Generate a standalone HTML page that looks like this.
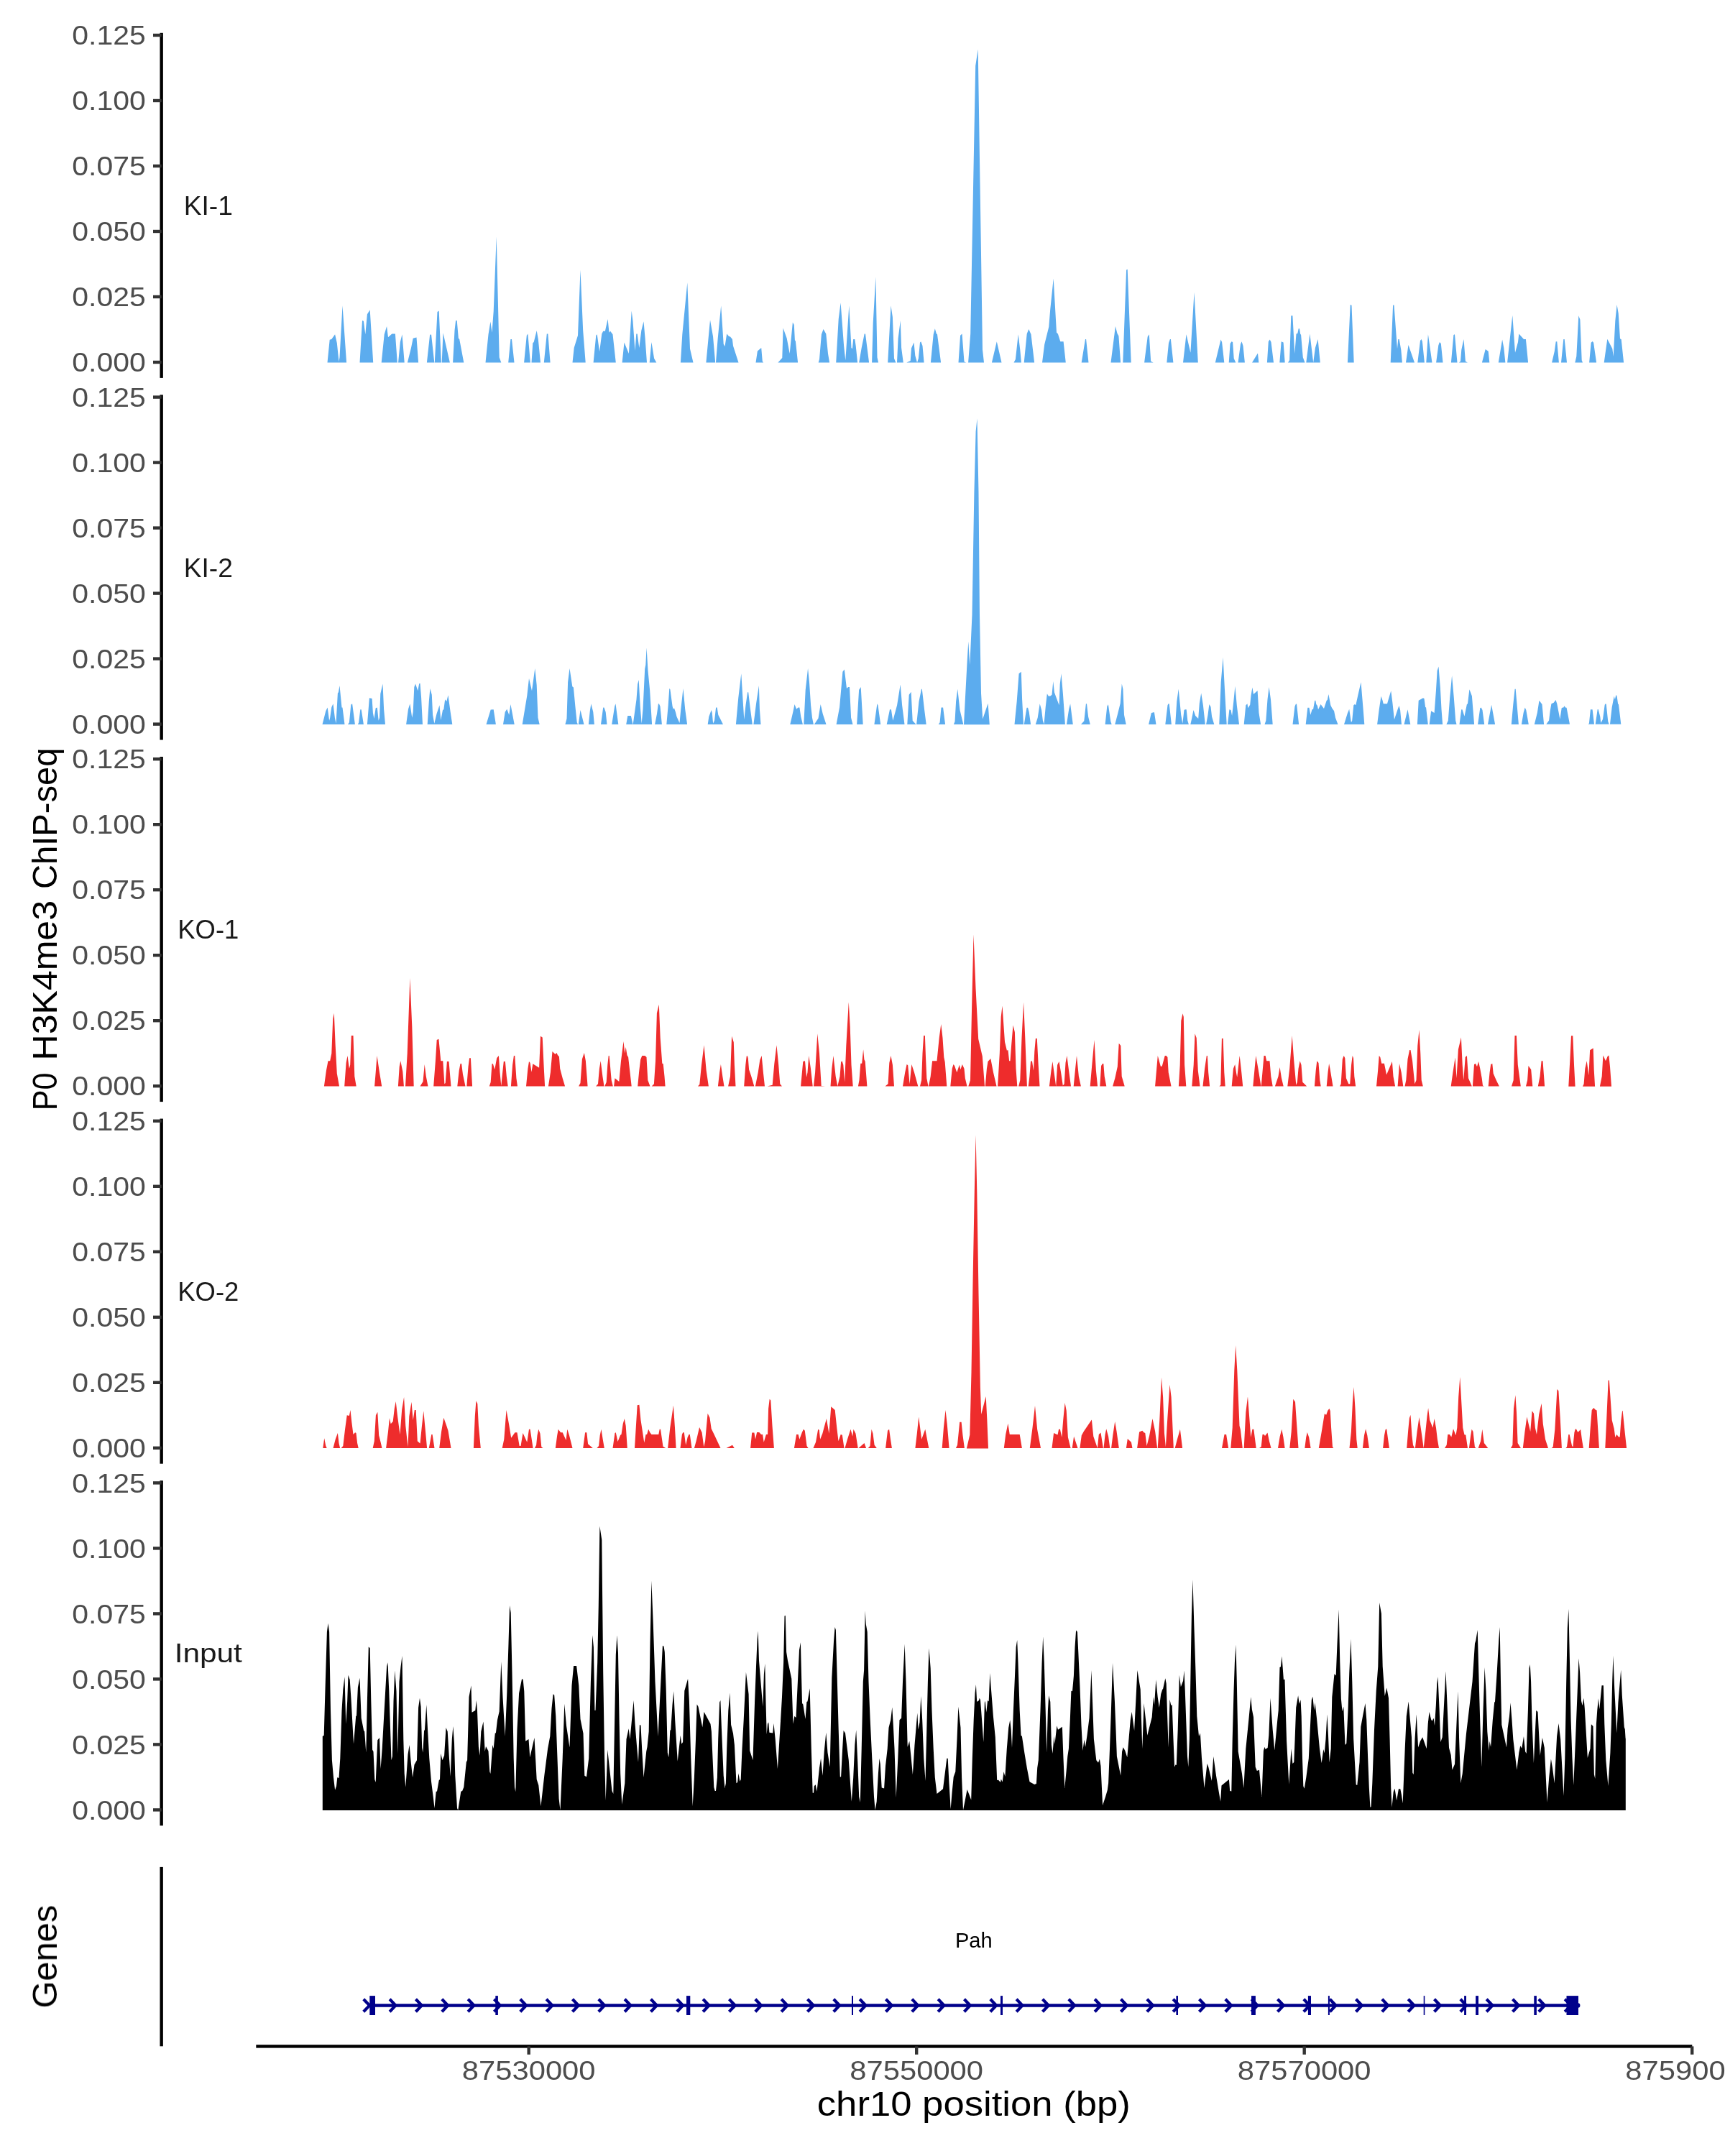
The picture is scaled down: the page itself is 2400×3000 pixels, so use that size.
<!DOCTYPE html>
<html lang="en"><head><meta charset="utf-8"><title>P0 H3K4me3 ChIP-seq coverage</title>
<style>html,body{margin:0;padding:0;background:#fff}svg{display:block}text{font-family:"Liberation Sans",sans-serif}</style></head><body>
<svg width="2400" height="3000" viewBox="0 0 2400 3000">
<rect width="2400" height="3000" fill="#fff"/>
<rect x="222.45" y="45.80" width="4.40" height="480.10" fill="#000"/>
<rect x="213" y="46.80" width="11.65" height="4.4" fill="#333"/>
<rect x="213" y="137.80" width="11.65" height="4.4" fill="#333"/>
<rect x="213" y="228.80" width="11.65" height="4.4" fill="#333"/>
<rect x="213" y="319.80" width="11.65" height="4.4" fill="#333"/>
<rect x="213" y="410.80" width="11.65" height="4.4" fill="#333"/>
<rect x="213" y="501.80" width="11.65" height="4.4" fill="#333"/>
<path d="M455.5,504.5 L458.7,472.8 L461.3,472.0 L466.1,465.3 L468.8,477.3 L471.5,503.2 L472.5,497.3 L476.5,425.3 L482.1,504.5ZM500.5,504.5 L504.0,446.1 L505.9,446.7 L508.3,465.3 L510.9,437.3 L514.7,431.2 L519.2,504.5ZM530.7,504.5 L534.7,465.3 L538.1,454.1 L540.0,469.3 L545.3,464.5 L549.9,464.5 L552.8,504.5ZM554.1,504.5 L556.8,476.0 L559.5,465.3 L562.7,504.5ZM566.9,504.5 L572.0,484.0 L574.7,470.7 L579.5,469.6 L582.1,504.5ZM593.9,504.5 L598.1,465.9 L600.0,465.3 L604.3,504.5ZM604.8,504.5 L608.5,434.1 L610.7,432.5 L613.9,504.5ZM614.7,504.5 L616.5,463.2 L625.9,504.5ZM630.1,504.5 L632.5,460.0 L634.1,446.1 L635.7,446.1 L637.9,470.7 L639.2,472.0 L645.3,504.5ZM675.5,504.5 L679.5,465.3 L682.4,447.5 L684.5,462.7 L686.7,433.3 L690.7,329.3 L694.7,497.3 L697.3,504.5ZM707.2,504.5 L710.4,472.0 L712.0,472.0 L715.5,504.5ZM729.1,504.5 L732.8,466.7 L734.4,464.5 L737.9,504.5ZM739.5,504.5 L741.3,477.3 L742.7,476.0 L746.7,460.0 L748.8,472.0 L752.0,504.5ZM756.8,504.5 L760.8,464.5 L762.4,464.5 L765.6,504.5ZM796.5,504.5 L798.7,484.0 L804.0,466.7 L807.5,375.5 L811.2,460.0 L814.7,504.5ZM825.6,504.5 L829.3,466.7 L830.7,465.3 L834.1,489.3 L837.3,464.5 L839.2,460.8 L841.9,460.8 L845.6,444.0 L847.5,462.7 L849.1,460.8 L852.5,465.3 L856.8,504.5ZM865.6,504.5 L868.5,476.5 L874.9,492.0 L878.7,432.5 L880.5,446.7 L883.5,488.0 L885.3,464.5 L886.7,464.5 L889.3,484.0 L892.3,460.0 L895.5,447.2 L897.6,470.7 L900.0,504.5ZM903.7,504.5 L906.4,476.0 L910.1,498.7 L913.3,504.5ZM946.9,504.5 L949.3,465.3 L956.3,393.3 L960.0,485.3 L964.5,504.5ZM982.4,504.5 L988.0,445.3 L992.0,468.0 L995.2,504.5ZM996.0,504.5 L998.7,470.7 L1003.2,425.3 L1006.7,478.7 L1008.5,482.1 L1011.2,464.5 L1014.1,468.0 L1016.0,468.5 L1018.9,472.0 L1020.0,481.3 L1027.5,504.5ZM1051.5,504.5 L1053.9,488.5 L1059.2,484.0 L1060.8,502.7 L1062.1,504.5ZM1082.4,504.5 L1088.3,497.9 L1089.6,456.5 L1094.7,470.7 L1098.7,492.0 L1102.9,448.5 L1104.8,452.0 L1105.9,473.3 L1106.9,474.7 L1110.1,504.5ZM1138.7,504.5 L1140.0,500.0 L1142.9,465.3 L1145.6,457.9 L1149.3,464.5 L1152.0,492.0 L1154.1,504.5ZM1163.2,504.5 L1166.7,444.0 L1169.6,421.3 L1174.1,481.3 L1176.3,501.3 L1177.3,486.7 L1181.3,425.3 L1184.5,484.0 L1185.9,485.3 L1187.2,472.0 L1189.3,472.0 L1190.7,481.3 L1193.1,504.5ZM1195.2,504.5 L1198.7,484.0 L1202.7,464.5 L1204.0,464.5 L1209.1,504.5ZM1213.1,504.5 L1214.7,449.3 L1218.4,385.3 L1220.5,497.3 L1222.1,504.5ZM1235.2,504.5 L1239.5,425.3 L1241.9,441.3 L1244.0,498.7 L1246.4,504.5ZM1248.0,504.5 L1249.6,470.7 L1252.8,446.1 L1254.1,484.0 L1256.8,504.5ZM1261.3,504.5 L1266.7,501.9 L1268.0,484.5 L1271.5,476.5 L1273.3,494.7 L1276.0,504.5 L1277.9,498.7 L1280.0,476.5 L1281.3,475.2 L1283.5,481.3 L1285.6,504.5ZM1294.9,504.5 L1298.7,465.3 L1300.8,457.3 L1302.9,464.5 L1304.0,465.3 L1309.1,504.5ZM1333.5,504.5 L1336.1,466.7 L1338.5,464.5 L1341.5,503.2 L1344.1,504.5ZM1379.9,504.5 L1386.8,475.2 L1393.5,504.5ZM1410.5,504.5 L1412.9,500.0 L1416.7,465.3 L1419.3,486.7 L1420.9,504.5ZM1424.7,504.5 L1428.7,464.5 L1431.3,457.9 L1434.5,465.3 L1439.1,504.5ZM1450.0,504.5 L1453.2,479.2 L1459.3,454.7 L1461.2,430.7 L1465.7,387.5 L1470.0,462.7 L1471.9,464.5 L1475.3,475.2 L1479.6,475.2 L1482.8,504.5ZM1504.7,504.5 L1510.0,472.0 L1511.1,472.0 L1514.5,504.5ZM1545.5,504.5 L1551.9,454.1 L1554.5,464.0 L1556.4,467.5 L1559.1,504.5ZM1562.3,504.5 L1567.1,375.5 L1568.7,374.7 L1573.7,504.5ZM1592.1,504.5 L1596.7,468.5 L1598.8,465.3 L1601.2,502.7 L1604.7,504.5ZM1623.3,504.5 L1626.0,477.3 L1627.9,472.0 L1628.9,472.0 L1632.4,504.5ZM1646.0,504.5 L1650.5,465.3 L1656.4,490.7 L1661.5,406.7 L1666.8,504.5ZM1690.8,504.5 L1698.5,472.5 L1700.1,476.0 L1703.3,504.5ZM1709.7,504.5 L1711.6,478.1 L1713.5,475.2 L1715.1,476.0 L1716.7,498.7 L1719.3,504.5ZM1722.5,504.5 L1726.0,478.7 L1727.6,475.2 L1729.5,481.3 L1731.9,504.5ZM1742.0,504.5 L1750.0,491.5 L1751.3,504.5ZM1347.1,504.5 L1350.2,464.6 L1357.2,91.5 L1360.7,68.5 L1367.0,486.4 L1369.0,504.5ZM1762.9,504.5 L1764.8,475.2 L1766.7,472.5 L1768.5,476.0 L1772.0,504.5ZM1780.3,504.5 L1782.7,475.2 L1785.6,476.5 L1787.7,504.5ZM1792.0,504.5 L1794.1,501.3 L1796.3,439.2 L1798.4,439.2 L1801.3,492.0 L1803.5,464.5 L1805.3,464.0 L1806.7,457.3 L1808.0,457.3 L1809.1,464.5 L1810.1,465.9 L1812.8,497.3 L1815.5,504.5ZM1817.3,504.5 L1822.4,464.5 L1827.2,504.5 L1829.9,484.0 L1833.6,472.0 L1836.8,504.5ZM1874.9,504.5 L1878.7,424.0 L1880.5,424.8 L1883.7,504.5ZM1934.7,504.5 L1938.1,424.5 L1939.5,424.5 L1944.0,485.3 L1945.3,472.0 L1946.7,472.0 L1949.3,486.7 L1950.9,504.5ZM1956.0,504.5 L1959.5,480.0 L1968.0,504.5ZM1972.3,504.5 L1976.0,473.9 L1977.6,472.0 L1978.9,475.2 L1981.9,504.5ZM1984.3,504.5 L1986.9,465.3 L1992.5,504.5ZM1998.1,504.5 L2001.3,480.5 L2002.9,476.0 L2004.8,478.1 L2007.5,504.5ZM2018.9,504.5 L2022.4,465.9 L2024.0,465.3 L2027.5,504.5ZM2029.9,504.5 L2032.0,502.7 L2033.3,486.7 L2036.5,472.0 L2038.9,502.7 L2041.9,504.5ZM2061.9,504.5 L2066.7,486.1 L2070.7,488.8 L2072.3,504.5ZM2084.8,504.5 L2090.1,472.5 L2092.3,484.0 L2094.4,504.5ZM2097.1,504.5 L2104.3,438.7 L2108.0,490.7 L2112.0,476.0 L2113.3,464.5 L2120.0,472.0 L2122.9,472.0 L2126.1,504.5ZM2159.1,504.4 L2162.7,489.3 L2164.7,475.3 L2166.3,475.3 L2168.9,504.4ZM2172.0,504.4 L2175.3,472.0 L2176.7,472.0 L2180.0,504.4ZM2191.3,504.4 L2193.3,496.0 L2196.3,439.3 L2198.4,444.7 L2200.7,501.3 L2202.0,504.4ZM2211.1,504.4 L2213.7,476.7 L2215.6,475.1 L2217.1,476.7 L2221.1,504.4ZM2231.7,504.4 L2236.3,471.7 L2243.3,485.3 L2244.7,496.0 L2247.3,446.7 L2249.6,424.0 L2251.7,436.0 L2254.0,471.3 L2255.7,472.3 L2259.1,504.4Z" fill="#5CACEE"/>
<rect x="222.45" y="549.40" width="4.40" height="480.10" fill="#000"/>
<rect x="213" y="550.40" width="11.65" height="4.4" fill="#333"/>
<rect x="213" y="641.40" width="11.65" height="4.4" fill="#333"/>
<rect x="213" y="732.40" width="11.65" height="4.4" fill="#333"/>
<rect x="213" y="823.40" width="11.65" height="4.4" fill="#333"/>
<rect x="213" y="914.40" width="11.65" height="4.4" fill="#333"/>
<rect x="213" y="1005.40" width="11.65" height="4.4" fill="#333"/>
<path d="M448.5,1008.0 L453.3,989.3 L455.7,984.5 L458.1,1002.7 L459.2,998.7 L461.3,984.0 L463.5,979.2 L465.9,998.7 L467.5,1006.7 L469.9,964.5 L470.9,963.2 L472.5,954.1 L475.5,984.5 L476.5,984.5 L479.5,1008.0ZM484.0,1008.0 L485.9,1005.3 L488.3,980.5 L490.1,979.2 L493.9,1008.0ZM497.9,1008.0 L499.2,1005.3 L501.3,987.2 L502.7,987.2 L505.9,1008.0ZM510.9,1008.0 L513.9,971.2 L517.6,972.0 L518.9,992.0 L520.5,1000.0 L522.7,985.3 L524.8,984.5 L526.7,1002.7 L528.0,998.7 L529.3,965.3 L532.5,951.5 L534.1,986.7 L536.0,1008.0ZM565.1,1008.0 L568.0,986.7 L570.4,979.2 L573.3,998.7 L574.7,990.7 L576.3,956.0 L578.1,951.5 L581.3,961.3 L583.2,951.2 L584.5,950.7 L586.1,970.7 L588.0,1008.0ZM594.7,1008.0 L596.8,976.0 L598.4,957.9 L600.8,966.7 L602.1,994.7 L604.3,1006.7 L607.5,993.3 L611.5,981.3 L613.3,1002.1 L616.0,988.0 L617.3,987.2 L619.2,973.3 L621.3,976.0 L623.5,967.2 L626.7,990.7 L629.3,1008.0ZM676.5,1008.0 L682.7,987.5 L686.7,987.2 L689.9,1008.0ZM700.0,1008.0 L702.7,990.7 L705.3,986.7 L708.3,994.7 L710.4,980.0 L715.7,1008.0ZM726.7,1008.0 L733.3,968.0 L736.0,944.0 L740.0,961.3 L744.3,930.1 L746.7,953.3 L748.5,998.7 L750.7,1008.0ZM786.4,1008.0 L788.5,1000.0 L790.1,949.3 L792.5,930.1 L796.3,955.2 L797.9,956.5 L800.5,984.0 L802.7,1005.3 L804.0,1008.0ZM804.8,1008.0 L807.5,988.0 L812.5,1008.0ZM818.9,1008.0 L820.8,989.3 L822.4,979.2 L825.3,990.7 L826.9,1008.0ZM836.0,1008.0 L839.2,984.5 L840.5,984.5 L842.7,990.7 L844.5,1008.0ZM851.2,1008.0 L855.2,982.7 L856.5,979.2 L860.3,1008.0ZM871.2,1008.0 L873.3,996.0 L877.9,996.0 L880.5,1008.0ZM880.7,1008.0 L885.5,973.3 L887.1,952.0 L888.7,946.1 L890.8,984.0 L892.7,1006.7 L894.5,986.7 L897.2,930.7 L898.3,925.3 L899.6,901.3 L901.5,933.3 L904.1,960.0 L907.1,1008.0ZM911.1,1008.0 L914.0,993.3 L915.9,979.2 L916.9,979.2 L918.5,982.7 L920.9,1008.0ZM927.3,1008.0 L929.7,981.3 L931.3,957.9 L932.4,959.2 L935.6,982.7 L936.7,986.7 L938.0,985.3 L939.9,990.7 L941.5,997.3 L945.5,1005.9 L947.3,986.7 L950.5,957.9 L953.2,986.7 L956.1,1008.0ZM984.7,1008.0 L986.3,997.3 L989.7,988.0 L990.8,992.0 L992.1,1006.7 L994.0,1002.7 L996.1,984.5 L997.7,984.5 L999.3,994.7 L1002.0,1000.0 L1006.0,1008.0ZM1023.9,1008.0 L1027.3,970.7 L1031.3,937.3 L1033.5,973.3 L1035.3,1001.3 L1037.5,981.3 L1040.1,963.2 L1041.2,963.2 L1043.6,984.0 L1046.8,1008.0ZM1048.4,1008.0 L1052.1,978.7 L1055.9,954.1 L1056.9,986.7 L1058.5,1008.0ZM1099.3,1008.0 L1103.3,990.7 L1105.5,980.0 L1108.1,986.7 L1110.5,984.5 L1112.4,984.5 L1114.3,997.3 L1116.9,1008.0ZM1118.3,1008.0 L1120.7,960.0 L1124.1,930.1 L1126.0,949.3 L1128.1,981.3 L1130.0,998.7 L1131.9,1008.0ZM1132.9,1008.0 L1138.5,999.5 L1141.7,980.0 L1144.7,993.3 L1149.5,1008.0ZM1163.6,1008.0 L1168.1,984.0 L1172.4,934.7 L1174.8,931.5 L1178.0,957.9 L1180.1,956.0 L1182.0,956.0 L1184.1,998.7 L1186.5,1008.0ZM1192.1,1008.0 L1193.5,986.7 L1195.1,960.0 L1197.7,956.0 L1199.3,984.0 L1200.7,1008.0ZM1216.4,1008.0 L1220.4,979.2 L1221.5,981.3 L1225.2,1008.0ZM1233.7,1008.0 L1238.0,987.2 L1239.9,987.2 L1242.3,1002.7 L1248.1,981.3 L1252.7,952.5 L1255.1,981.3 L1258.5,1008.0ZM1262.3,1008.0 L1264.7,966.7 L1267.6,962.7 L1269.7,1002.7 L1271.9,1005.3 L1274.5,1008.0ZM1275.1,1008.0 L1278.5,976.0 L1282.0,958.7 L1282.8,958.7 L1286.0,986.7 L1288.7,1008.0ZM1305.7,1008.0 L1307.6,1005.3 L1309.5,984.5 L1312.1,984.5 L1315.1,1008.0ZM1326.9,1008.0 L1328.5,1004.0 L1330.1,976.0 L1332.3,958.7 L1335.5,988.0 L1340.3,1008.0ZM1411.5,1008.0 L1414.7,976.0 L1417.6,937.3 L1420.8,934.7 L1422.1,973.3 L1424.0,1008.0ZM1424.8,1008.0 L1426.7,996.0 L1428.5,984.8 L1430.1,984.8 L1431.7,990.7 L1434.1,1008.0ZM1440.8,1008.0 L1443.7,998.7 L1446.7,979.2 L1449.1,988.0 L1450.9,1002.7 L1452.5,1008.0ZM1452.5,1008.0 L1454.7,984.0 L1456.8,965.3 L1458.9,968.8 L1461.3,968.5 L1463.5,966.7 L1465.3,948.0 L1466.9,963.2 L1470.1,972.0 L1473.6,981.3 L1474.7,952.0 L1476.5,937.3 L1478.9,965.3 L1481.9,1008.0ZM1484.0,1008.0 L1487.2,986.7 L1489.1,979.2 L1492.8,1008.0ZM1504.0,1008.0 L1508.3,1003.2 L1510.9,979.2 L1512.0,979.2 L1514.1,997.3 L1516.8,1008.0ZM1537.6,1008.0 L1540.3,982.7 L1541.9,980.3 L1545.3,1004.0 L1546.7,1008.0ZM1551.2,1008.0 L1554.7,994.7 L1558.7,978.7 L1560.8,951.5 L1562.4,958.7 L1564.0,994.7 L1566.7,1008.0ZM1598.1,1008.0 L1601.9,992.0 L1605.9,990.9 L1608.5,1008.0ZM1621.3,1008.0 L1624.5,981.3 L1625.6,979.2 L1626.7,979.2 L1629.9,1008.0ZM1635.2,1008.0 L1637.3,976.0 L1639.7,958.7 L1643.2,994.7 L1645.3,1006.7 L1647.5,988.0 L1648.8,987.2 L1650.7,987.2 L1652.3,1002.7 L1653.9,1008.0ZM1656.3,1008.0 L1658.1,1000.0 L1660.5,988.0 L1663.2,996.0 L1667.2,1000.0 L1668.8,978.7 L1671.2,964.5 L1673.9,981.3 L1676.8,1008.0ZM1678.1,1008.0 L1680.5,994.7 L1682.4,980.0 L1684.5,983.5 L1686.1,997.3 L1689.3,1008.0ZM1696.3,1008.0 L1698.7,949.3 L1701.6,914.7 L1704.0,960.0 L1706.7,1008.0ZM1708.0,1008.0 L1710.4,987.2 L1712.5,988.0 L1714.1,996.0 L1716.3,976.0 L1718.4,954.7 L1720.8,981.3 L1724.0,1008.0ZM1730.7,1008.0 L1733.3,981.3 L1735.5,979.2 L1736.3,985.3 L1739.2,980.8 L1740.5,968.0 L1742.4,956.5 L1744.0,965.9 L1749.6,961.1 L1751.5,992.0 L1754.1,1008.0ZM1759.5,1008.0 L1761.3,1002.7 L1763.5,973.3 L1765.6,956.0 L1768.0,973.3 L1770.7,1008.0ZM1341.0,1008.2 L1342.7,975.5 L1345.6,920.9 L1347.3,892.6 L1349.3,925.3 L1352.5,855.5 L1355.4,685.3 L1357.6,600.2 L1359.5,582.3 L1361.5,685.3 L1363.0,855.5 L1365.0,964.6 L1367.2,1000.6 L1374.6,978.8 L1376.8,1008.2ZM1798.5,1008.0 L1801.5,982.7 L1803.1,979.2 L1804.1,980.0 L1807.1,1008.0ZM1816.7,1008.0 L1819.3,984.8 L1821.5,984.8 L1823.3,994.7 L1825.5,987.2 L1827.1,986.7 L1829.2,974.7 L1830.3,974.7 L1831.3,980.0 L1832.9,981.9 L1834.0,987.2 L1837.5,980.0 L1842.0,985.9 L1845.7,974.7 L1846.8,973.9 L1848.4,965.9 L1851.3,981.3 L1853.2,985.3 L1856.1,989.3 L1858.0,998.7 L1861.5,1008.0ZM1870.0,1008.0 L1874.8,992.5 L1877.2,986.7 L1879.9,1005.3 L1881.2,1002.7 L1883.3,981.3 L1884.9,980.0 L1886.3,981.3 L1889.2,968.0 L1893.5,949.3 L1896.4,984.0 L1898.3,1008.0ZM1916.1,1008.0 L1918.8,986.7 L1921.5,968.8 L1923.6,974.7 L1924.7,979.2 L1930.0,979.2 L1931.3,974.7 L1935.3,961.3 L1937.5,978.7 L1939.9,1001.3 L1944.7,986.7 L1946.5,982.1 L1948.1,988.0 L1950.0,1008.0ZM1953.5,1008.0 L1958.5,987.2 L1962.3,1008.0ZM1971.9,1008.0 L1973.7,974.7 L1979.9,971.2 L1981.5,972.0 L1983.1,984.0 L1984.1,984.5 L1986.8,1008.0ZM1988.7,1008.0 L1991.1,989.3 L1995.6,992.0 L1998.0,960.0 L1999.6,933.3 L2001.5,927.5 L2003.9,957.3 L2005.5,986.7 L2007.1,1008.0ZM2012.4,1008.0 L2014.8,1002.7 L2017.2,970.7 L2020.1,940.0 L2022.8,970.7 L2025.2,1002.7 L2026.5,1008.0ZM2030.5,1008.0 L2033.2,987.2 L2034.5,987.2 L2037.5,996.8 L2040.9,980.0 L2042.0,979.2 L2044.4,959.2 L2047.9,968.5 L2051.1,1008.0ZM2056.1,1008.0 L2059.3,985.3 L2060.7,984.5 L2062.5,988.0 L2065.2,1008.0ZM2070.0,1008.0 L2075.1,980.8 L2080.1,1008.0ZM2102.8,1008.0 L2105.2,981.3 L2107.6,958.7 L2108.7,958.7 L2112.9,1008.0ZM2116.9,1008.0 L2119.6,992.0 L2121.7,984.5 L2123.3,988.0 L2126.8,1008.0ZM2134.8,1008.0 L2138.8,992.0 L2141.5,974.7 L2145.5,980.0 L2148.1,1008.0ZM2151.3,1007.7 L2155.1,1002.4 L2156.7,989.3 L2158.4,979.3 L2161.7,977.7 L2164.5,974.0 L2166.3,979.3 L2170.4,1000.7 L2172.7,985.3 L2173.3,984.7 L2175.3,984.4 L2176.4,982.3 L2178.0,984.4 L2179.6,984.7 L2184.0,1007.7ZM2209.7,1007.7 L2210.9,1006.4 L2212.9,987.3 L2215.6,987.3 L2218.0,1007.7ZM2219.7,1007.7 L2222.7,987.1 L2223.7,987.1 L2226.3,997.3 L2227.3,1006.0 L2230.0,1000.7 L2232.7,980.7 L2233.7,979.3 L2234.7,979.7 L2237.3,1004.0 L2238.7,1007.7ZM2240.0,1007.7 L2242.7,984.0 L2245.7,968.7 L2246.9,973.3 L2248.4,966.7 L2249.7,969.3 L2251.1,979.3 L2252.0,980.3 L2255.3,1007.7Z" fill="#5CACEE"/>
<rect x="222.45" y="1053.00" width="4.40" height="480.10" fill="#000"/>
<rect x="213" y="1054.00" width="11.65" height="4.4" fill="#333"/>
<rect x="213" y="1145.00" width="11.65" height="4.4" fill="#333"/>
<rect x="213" y="1236.00" width="11.65" height="4.4" fill="#333"/>
<rect x="213" y="1327.00" width="11.65" height="4.4" fill="#333"/>
<rect x="213" y="1418.00" width="11.65" height="4.4" fill="#333"/>
<rect x="213" y="1509.00" width="11.65" height="4.4" fill="#333"/>
<path d="M450.9,1511.5 L453.9,1489.7 L456.5,1476.3 L459.2,1476.3 L461.3,1465.7 L463.2,1417.7 L464.8,1409.7 L466.7,1455.0 L468.8,1493.7 L472.0,1511.5ZM479.2,1511.5 L481.6,1479.0 L483.5,1468.9 L485.9,1487.0 L487.2,1481.7 L488.8,1441.1 L491.5,1441.1 L493.3,1497.7 L495.7,1511.5ZM521.1,1511.5 L522.7,1492.3 L524.5,1468.9 L528.0,1492.3 L531.2,1511.5ZM553.9,1511.5 L555.7,1484.3 L557.3,1476.3 L560.3,1491.0 L561.9,1511.5ZM564.0,1511.5 L566.7,1465.7 L570.4,1360.9 L573.3,1428.3 L575.7,1511.5ZM584.5,1511.5 L588.5,1504.9 L590.7,1480.9 L592.8,1497.7 L595.5,1511.5ZM603.2,1511.5 L605.9,1476.3 L607.7,1447.0 L610.4,1445.7 L613.3,1476.3 L616.3,1476.3 L618.4,1508.3 L619.7,1507.0 L621.9,1476.9 L624.5,1476.9 L627.5,1511.5ZM636.3,1511.5 L638.7,1489.7 L640.5,1480.1 L642.1,1480.1 L644.0,1495.0 L647.5,1511.5ZM649.3,1511.5 L651.5,1484.3 L653.1,1472.3 L654.9,1472.3 L657.1,1511.5ZM680.8,1511.5 L682.7,1505.7 L684.5,1480.3 L685.9,1480.3 L688.3,1488.3 L691.2,1472.3 L693.9,1468.9 L695.5,1492.3 L697.3,1511.0 L698.9,1495.0 L700.8,1476.9 L702.9,1476.9 L704.8,1497.7 L706.7,1511.5ZM710.9,1511.5 L713.1,1481.7 L714.9,1468.9 L716.3,1468.9 L718.4,1500.3 L720.0,1511.5ZM732.0,1511.5 L734.4,1487.0 L736.0,1476.9 L737.6,1479.0 L739.5,1491.8 L741.3,1480.3 L750.1,1485.7 L752.0,1441.7 L754.7,1443.5 L756.8,1487.0 L758.1,1511.5ZM762.9,1511.5 L765.9,1492.3 L768.5,1463.0 L772.5,1467.0 L774.4,1464.9 L776.0,1468.3 L777.9,1470.2 L779.2,1487.0 L782.7,1500.3 L786.1,1511.5ZM805.1,1511.5 L807.5,1507.0 L809.9,1473.7 L812.8,1465.1 L814.9,1476.3 L817.6,1511.5ZM829.1,1511.5 L832.0,1508.3 L833.9,1487.0 L835.7,1476.3 L838.4,1497.7 L840.5,1511.5ZM841.3,1511.5 L843.7,1505.7 L845.3,1481.7 L846.7,1468.9 L847.7,1468.9 L850.7,1503.0 L852.8,1511.5ZM854.1,1511.5 L855.5,1500.3 L861.3,1504.9 L864.0,1476.3 L867.5,1449.1 L869.3,1465.7 L870.7,1457.1 L872.5,1468.3 L874.1,1471.0 L878.7,1511.5ZM887.2,1511.5 L889.3,1489.7 L891.2,1474.2 L893.3,1468.9 L897.3,1468.9 L899.5,1471.0 L901.3,1503.0 L904.5,1511.5ZM906.7,1511.5 L909.9,1508.3 L912.0,1476.3 L913.9,1409.7 L916.8,1397.7 L918.7,1444.3 L921.3,1479.8 L922.7,1480.3 L924.5,1497.7 L925.6,1511.5ZM970.9,1511.5 L973.3,1508.9 L976.0,1481.7 L979.5,1454.2 L982.7,1489.7 L985.9,1511.5ZM998.9,1511.5 L1001.1,1492.3 L1002.9,1480.9 L1005.3,1497.7 L1007.5,1511.5ZM1013.1,1511.5 L1016.0,1497.7 L1018.1,1441.7 L1020.8,1450.2 L1021.9,1481.7 L1023.5,1511.5ZM1035.2,1511.5 L1037.3,1481.7 L1038.7,1469.7 L1039.7,1468.9 L1040.8,1472.3 L1042.1,1488.3 L1045.3,1497.7 L1049.3,1511.5ZM1050.9,1511.5 L1054.7,1492.3 L1057.3,1475.0 L1059.7,1468.9 L1061.9,1492.3 L1064.0,1511.5ZM1067.5,1511.5 L1074.7,1509.7 L1077.3,1480.3 L1080.5,1454.2 L1083.2,1481.7 L1085.3,1508.3 L1088.0,1511.5ZM1114.1,1511.5 L1117.3,1476.9 L1120.0,1476.3 L1122.1,1499.0 L1123.5,1492.3 L1125.3,1468.9 L1128.0,1487.0 L1130.7,1511.5ZM1132.0,1511.5 L1134.1,1492.3 L1137.3,1438.2 L1140.0,1465.7 L1142.7,1511.0 L1148.0,1511.5ZM1155.5,1511.5 L1157.3,1487.0 L1159.5,1468.9 L1162.7,1497.7 L1165.3,1511.5ZM1165.3,1511.5 L1168.5,1497.7 L1170.1,1477.7 L1171.5,1476.3 L1173.3,1481.7 L1175.2,1505.7 L1177.3,1455.0 L1180.8,1394.2 L1182.7,1428.3 L1184.5,1481.7 L1186.7,1511.5ZM1193.9,1511.5 L1195.5,1503.0 L1197.3,1479.8 L1199.2,1479.8 L1201.1,1460.3 L1202.4,1474.2 L1203.7,1476.9 L1206.4,1511.5ZM1231.5,1511.5 L1235.5,1508.3 L1237.3,1479.0 L1239.5,1468.9 L1241.9,1481.7 L1244.0,1511.5ZM1256.0,1511.5 L1259.2,1492.3 L1261.6,1480.9 L1263.2,1482.2 L1265.6,1508.3 L1268.3,1480.9 L1272.0,1492.3 L1277.3,1511.5ZM1280.0,1511.5 L1282.1,1503.0 L1283.5,1465.7 L1285.1,1441.1 L1286.9,1441.1 L1288.0,1471.0 L1289.3,1500.3 L1291.5,1511.5ZM1292.0,1511.5 L1294.7,1497.7 L1297.1,1476.3 L1303.5,1476.3 L1306.7,1444.3 L1309.3,1425.1 L1311.5,1444.3 L1313.3,1471.0 L1314.7,1477.7 L1317.3,1511.5ZM1322.3,1511.5 L1324.7,1487.0 L1326.5,1480.9 L1328.1,1483.0 L1331.3,1492.3 L1334.8,1481.7 L1336.4,1488.3 L1338.8,1480.9 L1341.5,1487.0 L1342.8,1500.3 L1345.5,1511.5ZM1347.3,1511.5 L1350.0,1503.0 L1352.1,1401.7 L1354.5,1300.3 L1357.5,1375.0 L1361.2,1445.7 L1366.8,1469.7 L1370.0,1511.5ZM1370.8,1511.5 L1372.9,1487.0 L1374.5,1476.9 L1378.3,1473.1 L1382.0,1492.3 L1386.5,1511.5ZM1388.1,1511.5 L1390.8,1465.7 L1392.7,1415.0 L1394.5,1399.5 L1398.0,1449.7 L1400.9,1461.7 L1402.5,1460.9 L1404.1,1476.3 L1405.5,1476.3 L1407.3,1452.3 L1409.5,1426.5 L1411.9,1436.3 L1413.5,1487.0 L1415.3,1511.5ZM1417.2,1511.5 L1419.3,1503.0 L1421.5,1444.3 L1424.1,1394.5 L1426.3,1444.3 L1428.9,1511.5ZM1430.8,1511.5 L1432.4,1497.7 L1434.0,1476.9 L1435.9,1476.3 L1438.0,1489.7 L1439.3,1463.0 L1440.9,1445.1 L1442.8,1445.1 L1444.7,1481.7 L1446.5,1511.5ZM1459.9,1511.5 L1462.5,1489.7 L1464.4,1476.9 L1467.3,1497.7 L1469.2,1511.5 L1471.1,1481.7 L1473.5,1476.9 L1476.1,1492.3 L1478.8,1510.5 L1480.7,1508.3 L1482.5,1479.0 L1484.4,1468.9 L1487.1,1489.7 L1490.0,1511.5ZM1493.7,1511.5 L1496.1,1487.0 L1498.0,1468.9 L1500.9,1497.7 L1503.9,1511.5ZM1516.7,1511.5 L1519.3,1481.7 L1522.5,1447.0 L1524.9,1489.7 L1527.1,1511.5ZM1530.3,1511.5 L1532.1,1483.0 L1534.0,1480.1 L1535.3,1480.1 L1536.7,1497.7 L1539.3,1511.5ZM1548.1,1511.5 L1551.3,1500.3 L1554.8,1484.3 L1556.7,1451.8 L1559.3,1455.0 L1560.7,1497.7 L1564.7,1511.5ZM1607.1,1511.5 L1609.2,1487.0 L1610.8,1468.9 L1614.8,1483.8 L1616.7,1483.8 L1620.7,1468.9 L1622.5,1468.9 L1624.4,1471.0 L1625.7,1492.3 L1629.5,1511.5ZM1639.9,1511.5 L1641.7,1481.7 L1643.3,1420.3 L1645.5,1410.2 L1646.8,1415.0 L1648.1,1481.7 L1650.3,1511.5ZM1658.3,1511.5 L1660.7,1481.7 L1662.5,1438.2 L1664.7,1444.3 L1666.8,1489.7 L1669.5,1511.5ZM1673.5,1511.5 L1676.1,1487.0 L1678.8,1468.9 L1679.9,1468.9 L1681.2,1492.3 L1683.1,1511.5ZM1696.4,1511.5 L1698.3,1509.7 L1699.9,1445.1 L1701.7,1445.1 L1703.3,1492.3 L1704.7,1511.5ZM1713.7,1511.5 L1715.9,1487.0 L1718.3,1480.9 L1719.9,1492.3 L1721.2,1499.0 L1724.7,1468.9 L1727.3,1492.3 L1729.2,1511.5ZM1743.3,1511.5 L1745.1,1492.3 L1747.3,1468.9 L1750.5,1487.0 L1754.5,1511.5ZM1754.7,1511.5 L1756.9,1487.0 L1758.5,1468.9 L1760.6,1468.9 L1762.2,1476.3 L1766.5,1476.3 L1768.3,1497.7 L1770.7,1511.5ZM1773.9,1511.5 L1778.5,1497.7 L1780.6,1484.9 L1783.0,1500.3 L1785.7,1511.5ZM1791.3,1511.5 L1794.2,1487.0 L1797.7,1441.1 L1800.3,1476.3 L1803.3,1509.7 L1804.9,1505.7 L1806.5,1487.0 L1808.6,1476.3 L1810.5,1481.7 L1812.3,1505.7 L1818.2,1511.5ZM1828.9,1511.5 L1830.7,1489.7 L1832.3,1476.3 L1834.5,1479.0 L1836.3,1503.0 L1837.7,1511.5ZM1845.7,1511.5 L1847.5,1492.3 L1849.1,1480.1 L1850.5,1487.0 L1854.5,1511.5ZM1864.1,1511.5 L1865.7,1508.3 L1867.8,1473.7 L1869.7,1468.9 L1871.3,1472.3 L1872.9,1500.3 L1876.3,1508.3 L1878.2,1508.3 L1880.1,1481.7 L1881.7,1468.9 L1883.0,1472.3 L1884.3,1497.7 L1886.2,1511.5ZM1915.0,1511.5 L1917.1,1489.7 L1918.7,1468.9 L1920.3,1471.0 L1922.2,1479.8 L1925.9,1479.8 L1929.1,1495.5 L1936.9,1476.9 L1938.5,1497.7 L1941.1,1511.5ZM1944.6,1511.5 L1947.0,1480.1 L1949.7,1492.3 L1952.3,1511.5ZM1954.5,1511.5 L1956.3,1503.0 L1958.5,1473.7 L1961.1,1460.9 L1962.5,1460.9 L1965.1,1476.3 L1968.3,1508.3 L1970.5,1503.0 L1972.3,1455.0 L1974.5,1433.1 L1976.3,1465.7 L1977.7,1503.0 L1979.8,1511.5ZM2018.7,1511.5 L2021.4,1492.3 L2024.6,1471.5 L2026.5,1500.3 L2028.9,1460.3 L2032.9,1443.5 L2034.7,1481.7 L2036.3,1503.0 L2038.7,1471.0 L2040.9,1468.9 L2043.0,1500.3 L2047.8,1511.5ZM2048.9,1511.5 L2051.0,1480.9 L2053.1,1480.1 L2055.0,1484.3 L2057.1,1476.9 L2059.3,1487.0 L2061.7,1500.3 L2063.0,1510.5 L2064.9,1511.5ZM2070.7,1511.5 L2072.6,1492.3 L2074.2,1480.9 L2076.3,1480.1 L2077.7,1493.7 L2081.7,1503.0 L2085.9,1511.5ZM2103.0,1511.5 L2105.7,1503.0 L2107.5,1441.1 L2109.9,1441.1 L2111.8,1481.7 L2115.8,1511.5ZM2123.0,1511.5 L2125.1,1503.0 L2126.5,1483.0 L2130.2,1488.3 L2132.3,1511.5ZM2139.8,1511.5 L2142.5,1497.7 L2144.6,1476.3 L2146.5,1476.3 L2149.1,1511.5ZM2182.3,1511.7 L2184.4,1473.7 L2186.0,1441.3 L2188.3,1441.3 L2190.0,1481.7 L2191.6,1511.7ZM2202.0,1511.7 L2203.6,1508.3 L2205.3,1487.0 L2207.7,1476.3 L2210.4,1496.3 L2212.1,1461.3 L2216.7,1458.6 L2217.7,1488.3 L2219.1,1511.7ZM2225.9,1511.7 L2228.7,1497.7 L2230.4,1468.6 L2234.0,1476.3 L2236.7,1469.7 L2238.4,1468.6 L2240.0,1484.3 L2242.0,1511.7Z" fill="#EE2C2C"/>
<rect x="222.45" y="1556.60" width="4.40" height="480.10" fill="#000"/>
<rect x="213" y="1557.60" width="11.65" height="4.4" fill="#333"/>
<rect x="213" y="1648.60" width="11.65" height="4.4" fill="#333"/>
<rect x="213" y="1739.60" width="11.65" height="4.4" fill="#333"/>
<rect x="213" y="1830.60" width="11.65" height="4.4" fill="#333"/>
<rect x="213" y="1921.60" width="11.65" height="4.4" fill="#333"/>
<rect x="213" y="2012.60" width="11.65" height="4.4" fill="#333"/>
<path d="M449.3,2014.9 L451.2,2001.3 L453.3,2012.0 L454.7,2014.9ZM463.5,2014.9 L466.7,2002.7 L469.9,1993.9 L471.5,2008.0 L473.1,2014.9ZM474.7,2014.9 L477.3,2012.0 L480.0,1989.3 L482.7,1969.3 L485.9,1970.1 L487.5,1962.1 L489.3,1978.7 L491.5,1996.0 L494.1,1993.3 L495.5,1994.1 L497.1,2008.0 L498.7,2014.9ZM518.7,2014.9 L520.8,2005.3 L522.9,1969.3 L525.3,1964.8 L527.2,1997.3 L529.6,2006.7 L531.5,2014.9ZM537.1,2014.9 L540.0,1992.0 L541.9,1973.3 L543.7,1981.3 L546.7,1977.9 L548.8,1960.0 L550.7,1949.9 L553.1,1970.7 L556.5,1996.0 L559.2,1961.3 L562.1,1944.0 L564.3,1984.0 L567.5,2013.3 L569.3,1970.7 L572.5,1950.7 L574.7,1976.0 L576.8,1962.1 L578.7,1962.1 L580.8,2005.3 L584.5,2008.5 L586.7,1986.7 L589.3,1963.2 L592.0,1992.0 L594.1,2014.9ZM596.8,2014.9 L600.3,1996.0 L601.6,1996.0 L604.5,2014.9ZM611.2,2014.9 L614.1,1992.0 L617.3,1972.8 L621.3,1984.0 L623.5,1990.7 L627.5,2014.9ZM658.9,2014.9 L660.8,1970.7 L662.4,1949.3 L664.3,1953.3 L665.9,1984.0 L668.8,2014.9ZM698.7,2014.9 L701.3,2002.7 L704.5,1962.1 L708.0,1981.3 L711.2,2000.8 L716.5,1993.3 L719.5,1993.3 L722.7,2012.0 L724.5,2012.0 L727.5,1994.1 L733.3,2006.7 L736.0,1988.8 L737.6,1988.8 L741.6,2014.9ZM744.0,2014.9 L746.1,2010.7 L747.5,1997.3 L749.3,1988.8 L751.5,1994.7 L753.3,2013.3 L755.5,2014.9ZM772.8,2014.9 L775.2,1997.3 L776.8,1988.8 L780.0,1993.3 L782.7,1993.3 L787.5,2004.0 L789.3,1988.8 L792.0,1997.3 L796.5,2014.9ZM811.2,2014.9 L814.1,1993.3 L816.3,1993.3 L818.1,2009.3 L824.8,2014.9ZM830.4,2014.9 L833.1,2012.0 L834.7,1997.3 L836.5,1988.8 L838.7,2002.7 L840.8,2014.9ZM852.5,2014.9 L855.5,1993.9 L856.8,1993.3 L859.5,2005.9 L863.2,1996.8 L864.5,1996.0 L866.7,1981.3 L868.8,1973.9 L870.7,1984.0 L872.8,2014.9ZM883.0,2014.9 L884.9,1984.0 L886.7,1955.2 L889.4,1954.7 L891.5,1976.0 L896.3,2007.5 L898.5,1996.0 L900.1,1996.0 L902.2,1988.8 L904.3,1993.3 L906.5,1996.0 L916.3,1996.0 L917.7,1988.8 L919.0,1988.8 L922.5,2012.8 L926.2,2014.9ZM929.1,2014.9 L932.3,1986.7 L936.9,1955.5 L939.0,1986.7 L940.6,2014.9ZM946.5,2014.9 L948.9,1996.0 L950.2,1993.3 L951.8,1993.3 L954.2,2010.7 L956.6,2000.0 L958.5,1996.0 L959.8,1996.0 L962.5,2014.9ZM965.9,2014.9 L968.6,2005.3 L973.1,1986.1 L976.6,1993.3 L979.3,2013.3 L981.1,2005.3 L983.0,1984.0 L984.6,1966.7 L987.5,1972.8 L989.7,1988.0 L994.2,1997.3 L1002.5,2014.9ZM1010.5,2014.9 L1019.0,2010.7 L1021.7,2014.9ZM1044.1,2014.9 L1046.2,1993.6 L1049.4,1993.6 L1051.0,2002.7 L1053.1,1993.1 L1056.3,1993.1 L1059.0,1996.0 L1061.1,1996.0 L1062.7,2006.7 L1065.9,1996.0 L1068.1,1996.0 L1069.1,1960.0 L1070.7,1946.7 L1072.3,1948.5 L1074.5,1984.0 L1076.9,2014.9ZM1104.9,2014.9 L1108.1,1996.0 L1110.7,1996.0 L1112.3,2002.7 L1115.8,1993.3 L1117.9,1988.8 L1119.8,1990.7 L1122.5,2012.0 L1124.6,2014.9ZM1131.5,2014.9 L1135.0,2006.7 L1138.2,1988.8 L1139.8,1990.1 L1141.1,2002.7 L1144.3,1994.7 L1149.9,1973.9 L1153.4,1994.7 L1156.3,1957.3 L1161.7,1961.9 L1164.3,1986.7 L1166.5,2005.3 L1169.7,1996.0 L1171.8,1996.8 L1174.5,2014.9ZM1175.5,2014.9 L1179.0,2002.7 L1183.5,1988.8 L1186.2,1998.7 L1187.5,1988.8 L1190.5,1994.7 L1193.7,2014.9ZM1194.5,2014.9 L1202.5,2008.0 L1205.1,2014.9ZM1207.8,2014.9 L1210.5,2012.0 L1212.6,1988.8 L1214.5,1994.7 L1216.6,2010.7 L1219.8,2014.9ZM1232.1,2014.9 L1235.0,1990.7 L1237.1,1988.8 L1239.0,2002.7 L1240.9,2014.9ZM1273.4,2014.9 L1275.8,1994.7 L1278.2,1971.5 L1282.2,2002.7 L1287.3,1988.8 L1289.9,2002.7 L1292.3,2014.9ZM1310.7,2014.9 L1312.9,1986.7 L1315.5,1961.9 L1317.7,1981.3 L1320.6,2014.9ZM1329.9,2014.9 L1332.0,2010.7 L1335.2,1978.7 L1337.6,1978.7 L1339.5,1997.3 L1341.9,2014.9ZM1396.8,2014.9 L1399.2,1996.0 L1402.4,1980.8 L1404.8,1996.0 L1418.7,1996.0 L1421.9,2014.9ZM1432.8,2014.9 L1436.5,1986.7 L1440.0,1956.0 L1443.2,1989.3 L1448.0,2014.9ZM1463.5,2014.9 L1466.1,1993.9 L1471.5,1996.5 L1473.1,1988.8 L1474.9,1988.8 L1477.3,2000.0 L1479.2,1976.0 L1481.6,1952.0 L1483.7,1962.7 L1485.9,2000.0 L1489.6,2014.9ZM1491.7,2014.9 L1494.1,1998.7 L1499.5,2014.9ZM1502.4,2014.9 L1504.8,1997.3 L1508.0,1991.5 L1518.9,1975.5 L1521.3,1998.7 L1526.9,2014.9 L1528.8,1996.0 L1531.5,1993.6 L1534.9,2014.9ZM1535.5,2014.9 L1537.6,1996.0 L1539.2,1988.3 L1542.1,1998.7 L1544.3,2014.9ZM1546.1,2014.9 L1548.3,1997.3 L1551.2,1978.1 L1553.6,1992.0 L1556.8,2014.9ZM1566.9,2014.9 L1568.8,2001.9 L1573.9,2006.7 L1575.5,2014.9ZM1582.1,2014.9 L1585.1,1992.5 L1589.3,1990.7 L1591.5,1993.3 L1593.3,1994.1 L1595.5,2012.0 L1599.2,1997.3 L1603.5,1974.1 L1607.2,1992.0 L1610.1,2014.9ZM1610.7,2014.9 L1613.3,1976.0 L1616.0,1916.5 L1618.1,1944.0 L1620.0,1994.7 L1621.9,2013.3 L1624.5,1970.7 L1627.5,1926.7 L1629.6,1944.0 L1632.8,2014.9ZM1634.7,2014.9 L1637.9,2002.7 L1641.9,1988.8 L1645.1,2014.9ZM1700.0,2014.9 L1703.5,1996.0 L1706.1,1996.0 L1709.1,2014.9ZM1712.3,2014.9 L1714.7,1986.7 L1717.3,1906.7 L1719.2,1872.0 L1721.3,1906.7 L1724.5,1984.0 L1725.9,1989.3 L1728.8,2014.9ZM1730.7,2014.9 L1733.3,1965.3 L1736.0,1943.2 L1738.1,1970.7 L1740.3,2000.0 L1742.4,1988.8 L1744.3,1988.8 L1747.7,2014.9ZM1752.0,2014.9 L1754.7,2013.3 L1756.5,1996.0 L1758.7,1996.0 L1760.0,1997.9 L1763.5,1993.6 L1765.9,2005.3 L1768.5,2014.9ZM1344.9,2015.4 L1349.3,1996.4 L1351.5,1909.1 L1353.6,1778.2 L1355.8,1658.2 L1357.6,1579.2 L1359.3,1658.2 L1361.5,1800.0 L1363.9,1930.9 L1365.2,1968.0 L1371.7,1942.9 L1373.3,1974.6 L1375.0,2015.4ZM1778.0,2014.9 L1780.7,1998.7 L1783.3,1988.8 L1785.5,2000.0 L1787.6,2014.9ZM1794.3,2014.9 L1796.7,1992.0 L1799.3,1946.7 L1802.0,1950.7 L1804.1,1981.3 L1806.5,2014.9ZM1815.3,2014.9 L1817.2,2000.0 L1818.8,1993.1 L1821.2,2000.0 L1823.6,2014.9ZM1834.8,2014.9 L1838.8,1992.0 L1842.8,1967.2 L1845.2,1968.8 L1847.3,1962.7 L1849.5,1960.0 L1850.8,1963.2 L1852.1,1986.7 L1854.0,2013.3 L1855.3,2014.9ZM1877.5,2014.9 L1879.9,1992.0 L1882.0,1949.3 L1883.6,1929.9 L1885.5,1960.0 L1887.3,2002.7 L1888.7,2014.9ZM1895.9,2014.9 L1898.0,1997.3 L1900.1,1988.3 L1902.3,1997.3 L1904.9,2014.9ZM1924.1,2014.9 L1926.0,1997.3 L1927.6,1989.3 L1929.2,1988.3 L1930.8,2000.0 L1932.9,2014.9ZM1957.2,2014.9 L1959.3,1989.3 L1960.9,1973.3 L1962.5,1968.8 L1964.4,1997.3 L1966.0,2010.7 L1968.1,2014.9ZM1968.9,2014.9 L1971.6,1992.0 L1974.5,1972.0 L1977.5,1992.0 L1980.7,2014.9ZM1980.7,2014.9 L1983.3,1992.0 L1985.5,1970.7 L1987.1,1959.2 L1989.2,1976.0 L1993.5,1986.7 L1995.6,1974.1 L1998.0,1986.7 L1999.9,2002.7 L2002.0,2014.9ZM2010.0,2014.9 L2012.7,2010.7 L2014.3,1996.0 L2016.9,1996.0 L2019.3,1999.5 L2022.0,1988.3 L2025.5,1997.3 L2027.3,1986.7 L2029.2,1944.0 L2031.3,1916.0 L2033.5,1954.7 L2035.3,1986.7 L2037.5,1996.5 L2039.3,1996.5 L2042.0,2014.9ZM2043.9,2014.9 L2046.0,1998.7 L2047.6,1988.8 L2049.5,1992.0 L2051.9,2013.3 L2053.5,2014.9ZM2056.7,2014.9 L2060.1,2005.3 L2062.3,1988.8 L2064.9,2008.0 L2070.3,2014.9ZM2102.0,2014.9 L2104.4,2010.7 L2106.0,1960.0 L2108.4,1941.3 L2110.0,1965.3 L2111.6,2008.0 L2115.9,2014.9ZM2118.8,2014.9 L2121.5,1992.0 L2124.4,1971.5 L2129.2,1992.0 L2131.6,1963.2 L2134.0,1966.7 L2135.9,1986.7 L2138.0,1996.0 L2141.2,1968.0 L2144.7,1952.8 L2146.8,1981.3 L2150.0,2002.7 L2154.0,2014.9ZM2158.7,2014.9 L2160.7,2013.3 L2163.3,1989.3 L2166.4,1932.9 L2168.4,1935.3 L2170.7,1973.3 L2172.9,2014.9ZM2178.4,2014.9 L2180.0,2013.3 L2182.3,1996.0 L2183.6,1996.0 L2187.1,2012.0 L2188.4,2013.3 L2190.4,1993.3 L2191.7,1988.7 L2192.9,1988.3 L2195.3,1993.1 L2199.1,1989.1 L2200.9,2002.7 L2202.9,2014.9ZM2210.7,2014.9 L2212.7,1986.7 L2214.7,1962.0 L2217.3,1959.1 L2219.6,1961.6 L2221.6,1962.4 L2223.3,1989.3 L2224.9,2014.9ZM2233.3,2014.9 L2235.3,1973.3 L2237.6,1920.7 L2238.9,1920.4 L2240.7,1946.7 L2242.7,1976.0 L2245.7,1988.0 L2247.3,2000.0 L2249.3,1996.0 L2252.0,1999.6 L2253.7,1999.6 L2255.3,1977.3 L2257.1,1962.9 L2257.7,1963.3 L2260.7,1993.3 L2263.1,2014.9Z" fill="#EE2C2C"/>
<rect x="222.45" y="2060.20" width="4.40" height="480.10" fill="#000"/>
<rect x="213" y="2061.20" width="11.65" height="4.4" fill="#333"/>
<rect x="213" y="2152.20" width="11.65" height="4.4" fill="#333"/>
<rect x="213" y="2243.20" width="11.65" height="4.4" fill="#333"/>
<rect x="213" y="2334.20" width="11.65" height="4.4" fill="#333"/>
<rect x="213" y="2425.20" width="11.65" height="4.4" fill="#333"/>
<rect x="213" y="2516.20" width="11.65" height="4.4" fill="#333"/>
<path d="M448.8,2518.9 L448.8,2416.0 L450.7,2414.7 L452.8,2340.0 L454.9,2270.7 L456.5,2258.7 L458.1,2270.7 L460.0,2380.0 L461.9,2449.3 L464.0,2473.3 L466.1,2490.7 L468.0,2485.3 L469.3,2473.3 L471.5,2474.1 L473.3,2446.7 L475.5,2380.0 L477.3,2350.7 L479.5,2333.3 L481.3,2398.7 L483.2,2366.7 L484.5,2330.7 L486.7,2337.3 L488.5,2364.0 L492.0,2426.7 L495.2,2388.0 L496.0,2387.5 L497.9,2348.0 L500.5,2334.7 L502.7,2390.7 L506.1,2408.0 L507.2,2409.3 L509.3,2438.7 L510.9,2366.7 L512.8,2291.5 L514.7,2293.3 L516.3,2366.7 L518.1,2434.7 L519.5,2437.3 L521.3,2476.0 L522.7,2480.0 L525.3,2421.3 L528.0,2417.9 L529.6,2461.3 L531.7,2433.3 L533.9,2393.3 L536.0,2356.0 L538.1,2318.7 L539.5,2313.3 L541.3,2353.3 L544.5,2449.3 L545.9,2444.0 L547.5,2366.7 L549.3,2324.5 L551.5,2353.3 L553.3,2440.0 L555.5,2340.0 L557.6,2318.7 L559.5,2304.0 L561.3,2420.0 L562.7,2468.0 L564.3,2486.7 L567.5,2441.3 L569.6,2428.0 L572.0,2454.7 L574.1,2473.3 L576.5,2455.5 L580.0,2449.3 L582.1,2376.0 L584.0,2362.7 L585.6,2374.7 L587.2,2432.0 L588.3,2438.7 L590.1,2408.0 L590.9,2407.2 L593.3,2372.0 L595.2,2409.3 L597.3,2446.7 L600.0,2478.7 L602.7,2500.0 L604.5,2516.0 L606.7,2492.8 L608.0,2492.8 L610.7,2477.3 L612.0,2476.0 L613.3,2440.0 L615.5,2449.3 L618.1,2442.7 L620.5,2404.0 L622.7,2409.3 L624.8,2444.0 L626.7,2472.0 L628.8,2420.0 L630.4,2401.9 L632.0,2425.3 L633.3,2470.7 L636.0,2516.0 L637.3,2518.7 L641.3,2492.8 L643.2,2492.0 L645.3,2486.7 L648.8,2452.0 L650.1,2449.3 L652.5,2361.3 L655.5,2345.3 L656.5,2382.7 L661.3,2380.0 L662.7,2365.9 L664.0,2380.0 L665.9,2430.7 L667.5,2442.7 L669.3,2409.3 L672.5,2395.5 L674.7,2437.3 L676.0,2429.9 L679.5,2436.5 L681.3,2465.3 L682.4,2468.0 L685.3,2428.0 L686.7,2433.3 L688.8,2411.5 L689.9,2411.5 L692.0,2393.3 L694.7,2381.3 L697.3,2312.0 L699.5,2361.3 L702.7,2416.0 L705.3,2356.0 L707.5,2286.7 L709.1,2234.1 L710.7,2244.0 L712.5,2326.7 L714.7,2446.7 L716.0,2486.7 L717.3,2493.3 L719.5,2406.7 L722.1,2356.0 L726.1,2336.0 L727.7,2337.3 L729.3,2353.3 L731.2,2422.7 L735.5,2420.0 L737.3,2445.3 L743.5,2418.1 L746.7,2476.0 L749.3,2484.0 L752.5,2513.3 L757.3,2470.7 L762.1,2433.3 L765.3,2416.0 L767.5,2377.3 L769.6,2357.3 L771.2,2358.7 L773.3,2388.0 L775.5,2446.7 L777.6,2502.7 L779.5,2518.7 L782.7,2446.7 L785.3,2370.7 L788.0,2401.3 L792.5,2431.5 L795.5,2345.3 L798.1,2318.1 L802.1,2318.1 L805.3,2345.3 L807.5,2392.0 L811.5,2412.0 L813.3,2470.7 L816.0,2472.5 L819.2,2446.7 L821.9,2340.0 L824.3,2275.2 L825.9,2292.0 L827.5,2380.0 L828.5,2380.0 L831.2,2313.3 L832.8,2233.3 L834.4,2123.5 L837.3,2142.7 L839.2,2326.7 L841.1,2446.7 L842.7,2505.3 L845.3,2434.7 L848.0,2460.0 L851.5,2492.0 L853.3,2496.0 L854.9,2406.7 L856.8,2302.7 L858.4,2275.2 L860.0,2300.0 L861.6,2393.3 L863.2,2468.0 L865.3,2510.7 L869.3,2481.3 L871.5,2420.0 L874.7,2405.3 L876.5,2420.0 L879.5,2388.0 L881.6,2365.9 L883.5,2398.7 L885.9,2428.0 L888.0,2452.0 L889.9,2400.0 L891.5,2400.8 L893.3,2436.0 L895.5,2473.3 L899.2,2437.3 L900.5,2430.7 L902.7,2409.3 L904.5,2286.7 L906.4,2199.5 L908.8,2260.0 L911.5,2340.0 L913.6,2380.0 L915.5,2416.0 L918.7,2353.3 L921.9,2289.9 L923.5,2290.7 L924.8,2298.7 L926.7,2350.7 L928.8,2438.7 L930.4,2445.3 L932.3,2408.0 L933.3,2406.7 L935.5,2372.0 L937.3,2353.3 L939.2,2393.3 L942.7,2450.7 L946.7,2414.7 L948.3,2426.7 L950.1,2424.0 L952.3,2352.8 L957.1,2336.0 L958.9,2366.7 L961.3,2446.7 L963.7,2513.3 L965.9,2473.3 L968.0,2420.0 L969.6,2371.5 L971.5,2374.7 L977.3,2403.5 L979.5,2381.9 L988.5,2398.7 L989.9,2409.3 L993.3,2486.7 L994.7,2492.0 L996.0,2492.0 L997.9,2473.3 L999.2,2420.0 L1001.1,2368.8 L1002.4,2365.9 L1004.0,2406.7 L1006.7,2470.7 L1008.5,2488.0 L1009.9,2481.3 L1011.2,2433.3 L1013.3,2380.0 L1015.5,2355.5 L1017.1,2400.0 L1020.0,2412.0 L1021.9,2428.0 L1024.5,2481.3 L1026.1,2480.0 L1027.5,2467.5 L1029.3,2478.7 L1030.7,2476.0 L1032.5,2433.3 L1034.7,2393.3 L1037.9,2326.7 L1041.6,2357.3 L1043.2,2436.0 L1047.5,2449.3 L1050.1,2366.7 L1052.0,2318.7 L1053.6,2281.3 L1054.7,2269.3 L1056.0,2310.7 L1061.3,2374.7 L1062.9,2329.3 L1064.3,2314.7 L1065.6,2372.0 L1066.7,2413.3 L1068.0,2398.7 L1069.3,2396.5 L1070.4,2410.7 L1075.2,2411.5 L1076.5,2398.1 L1078.7,2420.0 L1081.9,2461.3 L1085.3,2406.7 L1088.0,2361.3 L1090.1,2313.3 L1091.5,2248.5 L1092.8,2248.0 L1094.1,2298.7 L1096.0,2310.7 L1101.3,2336.0 L1103.5,2398.7 L1105.3,2388.0 L1107.5,2390.1 L1109.9,2340.0 L1112.0,2296.0 L1113.9,2285.3 L1116.0,2369.9 L1117.3,2371.5 L1120.5,2392.0 L1122.4,2368.0 L1123.5,2367.5 L1126.7,2349.3 L1128.8,2433.3 L1130.7,2494.7 L1132.0,2494.7 L1132.8,2485.3 L1134.7,2483.2 L1136.5,2492.8 L1140.0,2460.0 L1142.1,2446.7 L1144.5,2470.7 L1146.7,2437.3 L1149.3,2410.7 L1151.5,2438.7 L1154.7,2458.7 L1157.3,2334.7 L1160.0,2284.0 L1161.6,2264.0 L1162.9,2268.0 L1164.5,2326.7 L1166.7,2406.7 L1168.8,2472.5 L1170.1,2472.5 L1172.0,2436.0 L1173.6,2408.0 L1176.0,2411.5 L1180.8,2449.3 L1184.8,2506.7 L1187.2,2473.3 L1189.3,2428.0 L1191.2,2407.2 L1193.3,2452.0 L1195.2,2500.0 L1196.8,2508.0 L1198.7,2433.3 L1200.8,2340.0 L1202.1,2324.0 L1203.7,2241.3 L1204.8,2260.0 L1206.7,2270.7 L1208.5,2340.0 L1210.7,2393.3 L1213.3,2446.7 L1216.0,2500.0 L1217.6,2518.7 L1219.7,2506.7 L1221.9,2468.0 L1223.5,2446.7 L1224.8,2454.7 L1226.7,2487.5 L1230.1,2488.5 L1232.0,2457.3 L1234.7,2433.3 L1236.5,2404.0 L1239.2,2393.3 L1241.3,2375.5 L1242.7,2398.7 L1244.5,2433.3 L1246.7,2501.3 L1249.3,2446.7 L1251.5,2393.3 L1254.1,2390.7 L1256.0,2340.0 L1258.7,2287.5 L1260.5,2340.0 L1262.7,2430.7 L1265.3,2422.7 L1267.2,2441.3 L1269.9,2469.3 L1272.5,2428.0 L1276.3,2383.5 L1277.6,2406.7 L1279.5,2396.5 L1281.3,2360.0 L1283.2,2393.3 L1285.3,2446.7 L1287.5,2478.1 L1289.3,2406.7 L1290.9,2340.0 L1292.5,2293.3 L1294.7,2321.3 L1296.5,2380.0 L1298.7,2433.3 L1300.8,2473.3 L1303.5,2496.0 L1312.0,2489.3 L1317.3,2446.7 L1318.7,2446.7 L1320.5,2481.3 L1322.7,2517.3 L1324.5,2494.7 L1326.7,2472.5 L1329.3,2465.3 L1331.5,2420.0 L1333.3,2374.7 L1336.5,2404.0 L1338.1,2473.3 L1340.0,2518.7 L1342.7,2505.3 L1345.6,2490.1 L1348.0,2496.0 L1351.2,2504.5 L1352.8,2446.7 L1354.7,2393.3 L1356.5,2356.0 L1357.9,2344.0 L1359.2,2368.0 L1362.1,2365.9 L1362.7,2362.7 L1364.0,2365.3 L1366.1,2393.3 L1368.3,2424.0 L1369.9,2369.3 L1370.7,2366.7 L1372.3,2382.7 L1374.1,2365.9 L1375.7,2367.5 L1377.3,2328.0 L1379.2,2353.3 L1381.9,2388.0 L1384.8,2417.3 L1387.2,2477.3 L1388.8,2476.5 L1390.1,2478.1 L1392.0,2480.0 L1392.8,2475.5 L1394.7,2479.5 L1396.5,2465.3 L1398.4,2472.0 L1400.8,2433.3 L1403.2,2404.0 L1405.3,2393.3 L1406.7,2406.7 L1408.0,2432.0 L1409.9,2380.0 L1412.0,2332.0 L1413.6,2292.0 L1415.2,2281.9 L1416.5,2313.3 L1418.7,2380.0 L1420.5,2414.7 L1421.9,2416.0 L1425.3,2438.7 L1428.8,2460.0 L1432.5,2479.2 L1439.2,2482.9 L1441.9,2481.9 L1443.2,2460.0 L1444.8,2449.3 L1447.5,2380.0 L1449.6,2313.3 L1451.2,2277.3 L1452.8,2313.3 L1454.7,2380.0 L1456.3,2438.7 L1457.9,2380.0 L1459.2,2359.2 L1461.3,2368.0 L1462.9,2428.0 L1464.5,2440.0 L1466.4,2416.0 L1467.5,2426.7 L1470.4,2401.3 L1472.0,2406.7 L1473.3,2406.1 L1477.9,2402.7 L1479.5,2446.7 L1481.3,2488.0 L1483.5,2465.3 L1485.3,2444.0 L1486.9,2433.3 L1488.8,2393.3 L1490.4,2352.8 L1492.0,2353.3 L1493.9,2332.0 L1495.5,2292.0 L1497.1,2268.5 L1498.9,2270.7 L1500.3,2298.7 L1502.4,2345.3 L1504.5,2401.3 L1506.4,2436.0 L1508.5,2420.8 L1510.1,2430.7 L1512.5,2414.7 L1515.5,2390.7 L1517.3,2350.7 L1518.4,2324.0 L1520.0,2366.7 L1521.9,2420.0 L1525.3,2449.3 L1528.0,2452.8 L1529.9,2447.5 L1531.5,2457.3 L1534.1,2512.0 L1538.1,2500.0 L1540.8,2490.7 L1542.1,2481.3 L1544.0,2433.3 L1545.9,2380.0 L1548.0,2314.1 L1550.9,2366.7 L1552.5,2406.7 L1553.9,2444.0 L1559.2,2470.7 L1561.1,2437.3 L1562.7,2431.2 L1565.3,2436.0 L1568.3,2445.3 L1570.7,2417.3 L1572.8,2393.3 L1574.7,2382.1 L1576.5,2396.0 L1578.1,2408.0 L1580.3,2366.7 L1582.4,2324.0 L1586.7,2350.7 L1588.0,2393.3 L1589.3,2433.3 L1591.5,2369.9 L1594.1,2393.3 L1596.3,2414.7 L1602.7,2389.3 L1604.8,2361.3 L1606.1,2372.0 L1608.3,2337.3 L1610.7,2361.3 L1612.8,2376.0 L1615.2,2357.3 L1617.3,2350.7 L1618.1,2350.1 L1621.3,2335.2 L1622.7,2342.7 L1624.0,2382.7 L1625.6,2431.5 L1627.5,2364.8 L1629.3,2373.3 L1630.7,2372.0 L1632.5,2420.0 L1634.1,2458.7 L1635.5,2455.5 L1636.8,2456.0 L1638.7,2406.7 L1640.8,2330.7 L1642.9,2347.2 L1646.1,2338.7 L1647.5,2324.5 L1648.8,2353.3 L1650.7,2406.7 L1652.0,2444.0 L1653.3,2458.7 L1654.9,2420.0 L1656.5,2326.7 L1657.9,2246.7 L1659.5,2197.9 L1661.3,2260.0 L1663.5,2326.7 L1665.3,2388.0 L1668.0,2416.0 L1669.9,2411.5 L1672.0,2446.7 L1675.5,2488.0 L1677.6,2470.7 L1679.5,2454.1 L1681.3,2458.7 L1685.9,2478.1 L1688.3,2444.0 L1692.0,2470.7 L1696.0,2494.7 L1698.1,2506.7 L1699.5,2484.5 L1709.9,2476.0 L1711.2,2492.0 L1713.3,2492.5 L1714.7,2420.0 L1716.5,2353.3 L1717.9,2313.3 L1719.5,2288.5 L1720.8,2340.0 L1722.7,2437.3 L1728.0,2468.0 L1730.4,2488.0 L1733.3,2433.3 L1737.3,2393.3 L1740.3,2361.3 L1741.9,2378.7 L1744.0,2389.3 L1746.7,2458.7 L1748.8,2464.0 L1752.0,2462.7 L1755.5,2500.0 L1757.9,2436.0 L1759.5,2430.7 L1760.5,2433.9 L1763.7,2432.0 L1765.3,2414.7 L1767.5,2362.7 L1770.7,2406.7 L1773.3,2435.5 L1777.3,2393.3 L1778.7,2380.0 L1780.5,2320.0 L1781.9,2319.2 L1783.5,2304.5 L1785.9,2337.3 L1787.5,2336.8 L1788.8,2380.0 L1790.1,2422.7 L1793.3,2482.7 L1796.5,2433.3 L1798.4,2453.9 L1800.3,2452.0 L1801.6,2420.0 L1803.2,2376.0 L1806.1,2359.2 L1807.7,2370.7 L1809.6,2365.3 L1810.7,2388.0 L1812.0,2446.7 L1813.3,2485.3 L1814.7,2488.8 L1817.3,2473.3 L1820.8,2446.7 L1822.7,2406.7 L1824.8,2365.3 L1826.4,2360.8 L1828.3,2379.5 L1829.6,2369.3 L1832.0,2390.7 L1836.0,2433.3 L1838.7,2453.3 L1841.3,2433.9 L1842.7,2439.5 L1844.5,2420.0 L1846.4,2385.3 L1848.0,2414.7 L1849.6,2452.5 L1851.7,2433.3 L1853.3,2361.3 L1856.5,2329.3 L1858.7,2331.5 L1860.5,2286.7 L1862.7,2239.5 L1864.3,2313.3 L1865.9,2364.0 L1867.5,2381.3 L1869.3,2374.7 L1871.5,2428.0 L1873.3,2425.9 L1875.5,2380.0 L1877.3,2326.7 L1879.5,2280.5 L1881.3,2340.0 L1883.2,2420.0 L1886.7,2483.2 L1888.3,2484.0 L1891.5,2452.0 L1893.3,2402.7 L1896.5,2385.3 L1899.5,2369.9 L1901.3,2393.3 L1903.2,2446.7 L1904.8,2486.7 L1906.4,2514.7 L1907.5,2514.1 L1909.3,2481.3 L1912.0,2406.7 L1914.7,2353.3 L1917.3,2318.7 L1919.2,2230.1 L1921.9,2245.3 L1923.7,2318.7 L1926.7,2360.0 L1929.3,2348.5 L1932.0,2362.7 L1933.6,2420.0 L1935.2,2486.7 L1936.5,2514.7 L1938.7,2493.3 L1940.5,2488.8 L1943.2,2505.3 L1945.9,2489.3 L1948.3,2489.3 L1949.9,2497.3 L1951.7,2509.3 L1953.1,2473.3 L1954.7,2433.3 L1956.8,2388.0 L1959.7,2367.5 L1961.9,2393.3 L1964.0,2417.3 L1965.3,2466.7 L1966.7,2469.3 L1968.5,2420.0 L1970.7,2385.3 L1973.1,2431.5 L1976.0,2422.7 L1979.2,2417.3 L1984.8,2433.3 L1986.7,2398.7 L1988.5,2382.1 L1991.2,2392.8 L1992.5,2394.7 L1994.7,2390.7 L1996.0,2401.3 L1997.9,2372.0 L1999.2,2342.7 L2000.5,2333.3 L2002.7,2380.0 L2004.3,2424.0 L2006.7,2417.3 L2009.3,2366.7 L2011.5,2325.3 L2013.3,2366.7 L2016.0,2432.0 L2018.7,2442.1 L2020.5,2462.7 L2024.0,2454.7 L2026.7,2393.3 L2028.5,2353.3 L2030.1,2420.0 L2032.3,2481.3 L2034.7,2468.0 L2040.0,2412.0 L2048.5,2340.0 L2052.0,2286.7 L2053.3,2282.7 L2055.7,2268.0 L2057.3,2326.7 L2059.2,2393.3 L2061.3,2458.7 L2063.5,2380.0 L2065.6,2320.0 L2067.5,2353.3 L2069.3,2409.3 L2071.5,2436.0 L2072.5,2422.7 L2074.1,2430.7 L2076.8,2393.3 L2079.2,2368.5 L2080.0,2368.0 L2082.7,2326.7 L2085.3,2281.3 L2086.7,2264.0 L2088.0,2340.0 L2089.3,2400.0 L2096.0,2431.5 L2097.6,2405.3 L2100.0,2388.0 L2101.6,2369.3 L2103.5,2393.3 L2105.3,2420.0 L2110.4,2462.7 L2113.3,2438.7 L2115.2,2429.3 L2117.3,2432.8 L2120.0,2416.0 L2122.1,2437.3 L2123.7,2440.0 L2125.9,2380.0 L2127.5,2321.3 L2128.8,2316.0 L2130.1,2340.0 L2131.5,2393.3 L2133.9,2453.3 L2136.0,2406.7 L2137.3,2380.0 L2139.5,2381.9 L2142.7,2442.7 L2145.9,2418.1 L2148.8,2432.0 L2152.5,2508.0 L2155.2,2473.3 L2157.9,2447.5 L2160.0,2460.0 L2162.7,2481.3 L2164.5,2446.7 L2166.1,2416.0 L2168.5,2398.1 L2171.2,2420.0 L2175.5,2498.7 L2177.3,2446.7 L2179.2,2340.0 L2180.8,2265.3 L2182.4,2238.7 L2184.0,2313.3 L2185.6,2393.3 L2187.5,2446.7 L2189.3,2484.0 L2192.0,2420.0 L2194.7,2353.3 L2196.5,2307.5 L2198.1,2326.7 L2200.0,2366.7 L2201.6,2373.3 L2203.5,2362.7 L2204.8,2377.3 L2208.8,2446.1 L2212.5,2433.3 L2213.9,2399.2 L2216.5,2402.1 L2217.9,2469.0 L2219.3,2475.0 L2220.9,2399.2 L2222.3,2379.2 L2223.9,2363.3 L2225.3,2378.2 L2228.5,2345.3 L2230.9,2345.3 L2232.3,2399.2 L2234.3,2449.1 L2237.4,2485.0 L2240.4,2439.1 L2241.8,2399.2 L2243.2,2339.3 L2244.4,2303.8 L2246.2,2349.3 L2249.4,2411.2 L2251.4,2369.3 L2255.2,2323.4 L2256.8,2359.3 L2259.8,2403.2 L2260.8,2406.2 L2261.6,2419.1 L2261.8,2419.1 L2261.8,2518.9 Z" fill="#000000"/>
<rect x="222.45" y="2597.9" width="4.40" height="249.4" fill="#000"/>
<rect x="356.3" y="2845.2" width="1998" height="4.4" fill="#000"/>
<rect x="733.50" y="2847.4" width="4.4" height="11.4" fill="#333"/>
<rect x="1273.00" y="2847.4" width="4.4" height="11.4" fill="#333"/>
<rect x="1812.50" y="2847.4" width="4.4" height="11.4" fill="#333"/>
<rect x="2352.00" y="2847.4" width="4.4" height="11.4" fill="#333"/>
<path d="M514.0,2790.5 H2196.2" stroke="#00008B" stroke-width="4.45" fill="none"/>
<ellipse cx="2195.6" cy="2790.5" rx="2.8" ry="3.2" fill="#00008B"/>
<path d="M505.80,2781.80 L514.10,2790.50 L505.80,2799.20M542.14,2781.80 L550.44,2790.50 L542.14,2799.20M578.47,2781.80 L586.77,2790.50 L578.47,2799.20M614.81,2781.80 L623.11,2790.50 L614.81,2799.20M651.14,2781.80 L659.44,2790.50 L651.14,2799.20M687.48,2781.80 L695.78,2790.50 L687.48,2799.20M723.81,2781.80 L732.11,2790.50 L723.81,2799.20M760.15,2781.80 L768.45,2790.50 L760.15,2799.20M796.48,2781.80 L804.78,2790.50 L796.48,2799.20M832.82,2781.80 L841.12,2790.50 L832.82,2799.20M869.15,2781.80 L877.45,2790.50 L869.15,2799.20M905.49,2781.80 L913.79,2790.50 L905.49,2799.20M941.82,2781.80 L950.12,2790.50 L941.82,2799.20M978.16,2781.80 L986.46,2790.50 L978.16,2799.20M1014.49,2781.80 L1022.79,2790.50 L1014.49,2799.20M1050.83,2781.80 L1059.12,2790.50 L1050.83,2799.20M1087.16,2781.80 L1095.46,2790.50 L1087.16,2799.20M1123.50,2781.80 L1131.80,2790.50 L1123.50,2799.20M1159.83,2781.80 L1168.13,2790.50 L1159.83,2799.20M1196.17,2781.80 L1204.47,2790.50 L1196.17,2799.20M1232.50,2781.80 L1240.80,2790.50 L1232.50,2799.20M1268.84,2781.80 L1277.13,2790.50 L1268.84,2799.20M1305.17,2781.80 L1313.47,2790.50 L1305.17,2799.20M1341.51,2781.80 L1349.81,2790.50 L1341.51,2799.20M1377.84,2781.80 L1386.14,2790.50 L1377.84,2799.20M1414.17,2781.80 L1422.47,2790.50 L1414.17,2799.20M1450.51,2781.80 L1458.81,2790.50 L1450.51,2799.20M1486.85,2781.80 L1495.14,2790.50 L1486.85,2799.20M1523.18,2781.80 L1531.48,2790.50 L1523.18,2799.20M1559.52,2781.80 L1567.82,2790.50 L1559.52,2799.20M1595.85,2781.80 L1604.15,2790.50 L1595.85,2799.20M1632.19,2781.80 L1640.49,2790.50 L1632.19,2799.20M1668.52,2781.80 L1676.82,2790.50 L1668.52,2799.20M1704.86,2781.80 L1713.16,2790.50 L1704.86,2799.20M1741.19,2781.80 L1749.49,2790.50 L1741.19,2799.20M1777.53,2781.80 L1785.83,2790.50 L1777.53,2799.20M1813.86,2781.80 L1822.16,2790.50 L1813.86,2799.20M1850.19,2781.80 L1858.49,2790.50 L1850.19,2799.20M1886.53,2781.80 L1894.83,2790.50 L1886.53,2799.20M1922.87,2781.80 L1931.16,2790.50 L1922.87,2799.20M1959.20,2781.80 L1967.50,2790.50 L1959.20,2799.20M1995.54,2781.80 L2003.84,2790.50 L1995.54,2799.20M2031.87,2781.80 L2040.17,2790.50 L2031.87,2799.20M2068.20,2781.80 L2076.51,2790.50 L2068.20,2799.20M2104.54,2781.80 L2112.84,2790.50 L2104.54,2799.20M2140.88,2781.80 L2149.18,2790.50 L2140.88,2799.20M2177.21,2781.80 L2185.51,2790.50 L2177.21,2799.20" stroke="#00008B" stroke-width="4.15" fill="none" stroke-linejoin="miter"/>
<rect x="514.3" y="2777.1" width="7.7" height="26.9" fill="#00008B"/>
<rect x="689.3" y="2777.1" width="3.6" height="26.9" fill="#00008B"/>
<rect x="955.0" y="2777.1" width="5.3" height="26.9" fill="#00008B"/>
<rect x="1185.0" y="2777.1" width="2.0" height="26.9" fill="#00008B"/>
<rect x="1392.0" y="2777.1" width="3.0" height="26.9" fill="#00008B"/>
<rect x="1636.4" y="2777.1" width="2.6" height="26.9" fill="#00008B"/>
<rect x="1741.0" y="2777.1" width="5.9" height="26.9" fill="#00008B"/>
<rect x="1819.9" y="2777.1" width="4.1" height="26.9" fill="#00008B"/>
<rect x="1847.9" y="2777.1" width="2.0" height="26.9" fill="#00008B"/>
<rect x="1980.7" y="2777.1" width="1.6" height="26.9" fill="#00008B"/>
<rect x="2037.1" y="2777.1" width="2.9" height="26.9" fill="#00008B"/>
<rect x="2053.1" y="2777.1" width="3.9" height="26.9" fill="#00008B"/>
<rect x="2134.3" y="2777.1" width="3.6" height="26.9" fill="#00008B"/>
<rect x="2179.5" y="2777.1" width="16.5" height="26.9" fill="#00008B"/>
<g style="will-change:transform">
<text x="202.8" y="62.10" font-size="37.3" fill="#4D4D4D" text-anchor="end" textLength="102.5" lengthAdjust="spacingAndGlyphs">0.125</text>
<text x="202.8" y="153.10" font-size="37.3" fill="#4D4D4D" text-anchor="end" textLength="102.5" lengthAdjust="spacingAndGlyphs">0.100</text>
<text x="202.8" y="244.10" font-size="37.3" fill="#4D4D4D" text-anchor="end" textLength="102.5" lengthAdjust="spacingAndGlyphs">0.075</text>
<text x="202.8" y="335.10" font-size="37.3" fill="#4D4D4D" text-anchor="end" textLength="102.5" lengthAdjust="spacingAndGlyphs">0.050</text>
<text x="202.8" y="426.10" font-size="37.3" fill="#4D4D4D" text-anchor="end" textLength="102.5" lengthAdjust="spacingAndGlyphs">0.025</text>
<text x="202.8" y="517.10" font-size="37.3" fill="#4D4D4D" text-anchor="end" textLength="102.5" lengthAdjust="spacingAndGlyphs">0.000</text>
<text x="289.8" y="298.95" font-size="37.3" fill="#1A1A1A" text-anchor="middle" textLength="68.2" lengthAdjust="spacingAndGlyphs">KI-1</text>
<text x="202.8" y="565.70" font-size="37.3" fill="#4D4D4D" text-anchor="end" textLength="102.5" lengthAdjust="spacingAndGlyphs">0.125</text>
<text x="202.8" y="656.70" font-size="37.3" fill="#4D4D4D" text-anchor="end" textLength="102.5" lengthAdjust="spacingAndGlyphs">0.100</text>
<text x="202.8" y="747.70" font-size="37.3" fill="#4D4D4D" text-anchor="end" textLength="102.5" lengthAdjust="spacingAndGlyphs">0.075</text>
<text x="202.8" y="838.70" font-size="37.3" fill="#4D4D4D" text-anchor="end" textLength="102.5" lengthAdjust="spacingAndGlyphs">0.050</text>
<text x="202.8" y="929.70" font-size="37.3" fill="#4D4D4D" text-anchor="end" textLength="102.5" lengthAdjust="spacingAndGlyphs">0.025</text>
<text x="202.8" y="1020.70" font-size="37.3" fill="#4D4D4D" text-anchor="end" textLength="102.5" lengthAdjust="spacingAndGlyphs">0.000</text>
<text x="289.8" y="802.55" font-size="37.3" fill="#1A1A1A" text-anchor="middle" textLength="68.2" lengthAdjust="spacingAndGlyphs">KI-2</text>
<text x="202.8" y="1069.30" font-size="37.3" fill="#4D4D4D" text-anchor="end" textLength="102.5" lengthAdjust="spacingAndGlyphs">0.125</text>
<text x="202.8" y="1160.30" font-size="37.3" fill="#4D4D4D" text-anchor="end" textLength="102.5" lengthAdjust="spacingAndGlyphs">0.100</text>
<text x="202.8" y="1251.30" font-size="37.3" fill="#4D4D4D" text-anchor="end" textLength="102.5" lengthAdjust="spacingAndGlyphs">0.075</text>
<text x="202.8" y="1342.30" font-size="37.3" fill="#4D4D4D" text-anchor="end" textLength="102.5" lengthAdjust="spacingAndGlyphs">0.050</text>
<text x="202.8" y="1433.30" font-size="37.3" fill="#4D4D4D" text-anchor="end" textLength="102.5" lengthAdjust="spacingAndGlyphs">0.025</text>
<text x="202.8" y="1524.30" font-size="37.3" fill="#4D4D4D" text-anchor="end" textLength="102.5" lengthAdjust="spacingAndGlyphs">0.000</text>
<text x="289.8" y="1306.15" font-size="37.3" fill="#1A1A1A" text-anchor="middle" textLength="85.0" lengthAdjust="spacingAndGlyphs">KO-1</text>
<text x="202.8" y="1572.90" font-size="37.3" fill="#4D4D4D" text-anchor="end" textLength="102.5" lengthAdjust="spacingAndGlyphs">0.125</text>
<text x="202.8" y="1663.90" font-size="37.3" fill="#4D4D4D" text-anchor="end" textLength="102.5" lengthAdjust="spacingAndGlyphs">0.100</text>
<text x="202.8" y="1754.90" font-size="37.3" fill="#4D4D4D" text-anchor="end" textLength="102.5" lengthAdjust="spacingAndGlyphs">0.075</text>
<text x="202.8" y="1845.90" font-size="37.3" fill="#4D4D4D" text-anchor="end" textLength="102.5" lengthAdjust="spacingAndGlyphs">0.050</text>
<text x="202.8" y="1936.90" font-size="37.3" fill="#4D4D4D" text-anchor="end" textLength="102.5" lengthAdjust="spacingAndGlyphs">0.025</text>
<text x="202.8" y="2027.90" font-size="37.3" fill="#4D4D4D" text-anchor="end" textLength="102.5" lengthAdjust="spacingAndGlyphs">0.000</text>
<text x="289.8" y="1809.75" font-size="37.3" fill="#1A1A1A" text-anchor="middle" textLength="85.0" lengthAdjust="spacingAndGlyphs">KO-2</text>
<text x="202.8" y="2076.50" font-size="37.3" fill="#4D4D4D" text-anchor="end" textLength="102.5" lengthAdjust="spacingAndGlyphs">0.125</text>
<text x="202.8" y="2167.50" font-size="37.3" fill="#4D4D4D" text-anchor="end" textLength="102.5" lengthAdjust="spacingAndGlyphs">0.100</text>
<text x="202.8" y="2258.50" font-size="37.3" fill="#4D4D4D" text-anchor="end" textLength="102.5" lengthAdjust="spacingAndGlyphs">0.075</text>
<text x="202.8" y="2349.50" font-size="37.3" fill="#4D4D4D" text-anchor="end" textLength="102.5" lengthAdjust="spacingAndGlyphs">0.050</text>
<text x="202.8" y="2440.50" font-size="37.3" fill="#4D4D4D" text-anchor="end" textLength="102.5" lengthAdjust="spacingAndGlyphs">0.025</text>
<text x="202.8" y="2531.50" font-size="37.3" fill="#4D4D4D" text-anchor="end" textLength="102.5" lengthAdjust="spacingAndGlyphs">0.000</text>
<text x="289.8" y="2313.35" font-size="37.3" fill="#1A1A1A" text-anchor="middle" textLength="94.2" lengthAdjust="spacingAndGlyphs">Input</text>
<text transform="translate(79,1518.90) rotate(-90)" font-size="47.5" fill="#000" text-anchor="middle" textLength="52.6" lengthAdjust="spacingAndGlyphs">P0</text>
<text transform="translate(79,1364.25) rotate(-90)" font-size="47.5" fill="#000" text-anchor="middle" textLength="222.5" lengthAdjust="spacingAndGlyphs">H3K4me3</text>
<text transform="translate(79,1138.80) rotate(-90)" font-size="47.5" fill="#000" text-anchor="middle" textLength="196.4" lengthAdjust="spacingAndGlyphs">ChIP-seq</text>
<text transform="translate(79,2722.6) rotate(-90)" font-size="47.5" fill="#000" text-anchor="middle" textLength="143.6" lengthAdjust="spacingAndGlyphs">Genes</text>
<text x="735.70" y="2894.3" font-size="37.3" fill="#4D4D4D" text-anchor="middle" textLength="185.7" lengthAdjust="spacingAndGlyphs">87530000</text>
<text x="1275.20" y="2894.3" font-size="37.3" fill="#4D4D4D" text-anchor="middle" textLength="185.7" lengthAdjust="spacingAndGlyphs">87550000</text>
<text x="1814.70" y="2894.3" font-size="37.3" fill="#4D4D4D" text-anchor="middle" textLength="185.7" lengthAdjust="spacingAndGlyphs">87570000</text>
<text x="2354.20" y="2894.3" font-size="37.3" fill="#4D4D4D" text-anchor="middle" textLength="185.7" lengthAdjust="spacingAndGlyphs">87590000</text>
<text x="1354.8" y="2944.1" font-size="47.5" fill="#000" text-anchor="middle" textLength="436" lengthAdjust="spacingAndGlyphs">chr10 position (bp)</text>
<text x="1354.8" y="2709.9" font-size="29.8" fill="#000" text-anchor="middle" textLength="51.7" lengthAdjust="spacingAndGlyphs">Pah</text>
</g>
</svg></body></html>
